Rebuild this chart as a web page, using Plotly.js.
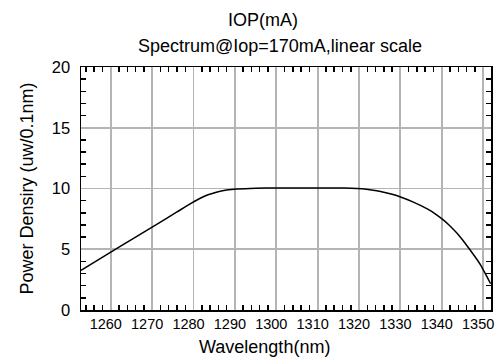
<!DOCTYPE html>
<html>
<head>
<meta charset="utf-8">
<script src="https://cdn.plot.ly/plotly-3.0.1.min.js"></script>
<style>html,body{margin:0;padding:0;background:#fff;}#chart{width:504px;height:360px;}</style>
</head>
<body>
<div id="chart"></div>
<script>
const wavelength = [1252.8, 1260, 1266, 1271, 1276, 1279.5, 1281.5, 1283.5, 1285.5, 1288, 1290.5, 1295, 1300, 1305, 1310, 1315, 1318, 1320.7, 1323, 1325.2, 1328, 1330.2, 1333, 1336.5, 1338.5, 1340.5, 1342, 1343.7, 1345, 1346.5, 1348, 1349.4, 1350.6, 1351.8];
const power      = [3.27,   4.76, 6.0,  7.03, 8.07, 8.8,    9.18,   9.48,   9.7,    9.87, 9.96,   10.03, 10.05, 10.05, 10.05, 10.04, 10.02, 9.97, 9.88, 9.76,   9.52, 9.28,   8.9,  8.32,   7.9,    7.38,   6.92, 6.32,   5.78, 5.1,    4.4,  3.7,    2.95,   2.16];
const xTicks = [1260, 1270, 1280, 1290, 1300, 1310, 1320, 1330, 1340, 1350];
const yTicks = [0, 5, 10, 15, 20];
const titleLine1 = "IOP(mA)";
const titleLine2 = "Spectrum@Iop=170mA,linear scale";
const xTitle = "Wavelength(nm)";
const yTitle = "Power Densiry (uw/0.1nm)";

const fam = "Liberation Sans, Arial, sans-serif";
const fontTitle = {family: fam, size: 18, color: "#000"};
const fontXTick = {family: fam, size: 14.5, color: "#000"};
const fontYTick = {family: fam, size: 16.5, color: "#000"};
const gridCol = "#b4b4b4";
const trace = {x: wavelength, y: power, type: "scatter", mode: "lines", line: {color: "#000", width: 1.5, shape: "spline", smoothing: 0.5}, hoverinfo: "skip"};
const axisCommon = {showline: true, linecolor: "#000", linewidth: 1.5, mirror: "allticks", showgrid: true, gridcolor: gridCol, gridwidth: 1.8, zeroline: false,
  ticks: "inside", ticklen: 5, tickwidth: 1.8, tickcolor: gridCol, tickmode: "linear"};
const L = 81, R = 13, T = 67, B = 50, W = 504, H = 360;
const pw = W - L - R, ph = H - T - B;
function px2x(p) { return (p - L) / pw; }
function px2y(p) { return (H - B - p) / ph; }
const layout = {
  width: W, height: H,
  margin: {l: L, r: R, t: T, b: B},
  paper_bgcolor: "#fff", plot_bgcolor: "#fff",
  showlegend: false, font: fontTitle,
  xaxis: Object.assign({}, axisCommon, {range: [1252.8, 1351.9], tick0: xTicks[0], dtick: xTicks[1] - xTicks[0], tickfont: fontXTick, ticklabelstandoff: 0, ticklabelshift: -5,
    minor: {dtick: 2, tick0: 1250, ticks: "inside", ticklen: 5, tickcolor: "#000", tickwidth: 1.5, showgrid: false}}),
  yaxis: Object.assign({}, axisCommon, {range: [0, 20], tick0: yTicks[0], dtick: yTicks[1] - yTicks[0], tickfont: fontYTick, ticklabelstandoff: 6,
    minor: {dtick: 1, ticks: "inside", ticklen: 5, tickcolor: "#000", tickwidth: 1.5, showgrid: false},
    title: {text: yTitle, font: fontTitle, standoff: 13}}),
  annotations: [
    {text: titleLine1, xref: "paper", yref: "paper", x: px2x(263), y: px2y(20), xanchor: "center", yanchor: "middle", showarrow: false, font: fontTitle},
    {text: titleLine2, xref: "paper", yref: "paper", x: px2x(280), y: px2y(46), xanchor: "center", yanchor: "middle", showarrow: false, font: fontTitle},
    {text: xTitle, xref: "paper", yref: "paper", x: px2x(264), y: px2y(347), xanchor: "center", yanchor: "middle", showarrow: false, font: fontTitle}
  ]
};
Plotly.newPlot("chart", [trace], layout, {staticPlot: true, displayModeBar: false});
</script>
</body>
</html>
